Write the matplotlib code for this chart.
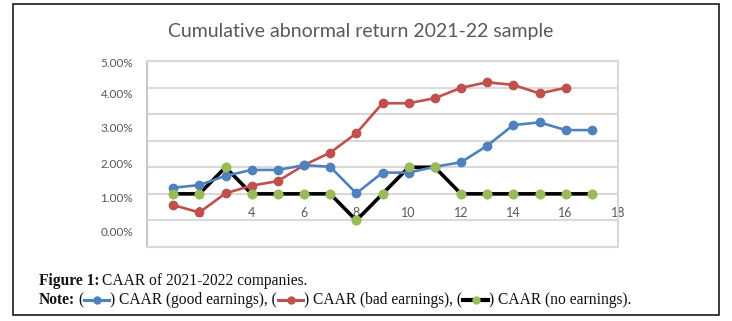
import matplotlib
matplotlib.use("Agg")
import matplotlib.pyplot as plt
from matplotlib.patches import Rectangle
from matplotlib.lines import Line2D

# ── Data (CAAR in %) ─────────────────────────────────────────────────────────
periods    = list(range(1, 18))
caar_good  = [1.23, 1.33, 1.68, 1.90, 1.90, 2.08, 2.02, 1.02, 1.80, 1.80,
              2.02, 2.19, 2.81, 3.59, 3.69, 3.40, 3.40]
caar_bad   = [0.58, 0.30, 1.02, 1.31, 1.48, 2.08, 2.55, 3.28, 4.41, 4.41,
              4.60, 4.99, 5.20, 5.10, 4.78, 4.99]
caar_none  = [1, 1, 2, 1, 1, 1, 1, 0, 1, 2, 2, 1, 1, 1, 1, 1, 1]

x_ticks    = [2, 4, 6, 8, 10, 12, 14, 16, 18]
y_labels   = ["0.00%", "1.00%", "2.00%", "3.00%", "4.00%", "5.00%"]

TITLE   = "Cumulative abnormal return 2021-22 sample"
BLUE    = "#4F81BD"
RED     = "#C0504D"
GREEN   = "#9BBB59"
GRID    = "#D9D9D9"
TXT     = "#595959"

# the % labels in the source are not aligned with the gridlines
Y_LABEL_POS = [-0.43, 0.88, 2.13, 3.51, 4.79, 5.96]

fig = plt.figure(figsize=(7.32, 3.21), dpi=100)
ax = fig.add_axes([147 / 732, 74 / 321, 471 / 732, 186 / 321])

ax.plot(periods, caar_none, color="black", lw=2.6, marker="o", ms=6,
        mfc=GREEN, mec=GREEN, zorder=3)
ax.plot(periods[:len(caar_bad)], caar_bad, color=RED, lw=1.9, marker="o", ms=6,
        mfc=RED, mec=RED, zorder=4)
ax.plot(periods, caar_good, color=BLUE, lw=1.9, marker="o", ms=6,
        mfc=BLUE, mec=BLUE, zorder=5)
# green dots drawn above everything, as in the source
ax.plot(periods, caar_none, lw=0, marker="o", ms=6, mfc=GREEN, mec=GREEN, zorder=6)

ax.set_xlim(0, 18)
ax.set_ylim(-1, 6)
ax.set_xticks(x_ticks)
ax.set_xticks(range(0, 19, 2), minor=True)
ax.set_yticks(Y_LABEL_POS)
ax.set_yticklabels(y_labels)
ax.set_yticks(range(-1, 7), minor=True)
ax.grid(False)
ax.grid(True, which="minor", color=GRID, lw=1.5)
ax.set_axisbelow(True)
ax.tick_params(axis="both", which="both", length=0)
ax.tick_params(axis="x", labelsize=9, labelcolor=TXT, pad=-29)
ax.tick_params(axis="y", labelsize=8.5, labelcolor=TXT, pad=10)
for s in ax.spines.values():
    s.set_color(GRID)
    s.set_linewidth(1.5)
ax.spines["left"].set_color("#C8C8C8")
for lab in ax.get_xticklabels() + ax.get_yticklabels():
    lab.set_family("Lato")

fig.text(361 / 732, 1 - 32 / 321, TITLE, ha="center", va="center",
         fontsize=14, color=TXT, family="Lato")

# outer frame
fig.patches.append(Rectangle((13 / 732, 1 - 315 / 321), 706 / 732, 311 / 321,
                             transform=fig.transFigure, fill=False,
                             ec="#1a1a1a", lw=1.2))

# ── Caption ──────────────────────────────────────────────────────────────────
fig.canvas.draw()
renderer = fig.canvas.get_renderer()
SERIF = "Liberation Serif"
CAP_FS = 11.2


def put(x, y, s, bold=False):
    t = fig.text(x / 732, 1 - y / 321, s, fontsize=CAP_FS, family=SERIF,
                 fontweight="bold" if bold else "normal", va="baseline",
                 color="#111111")
    bb = t.get_window_extent(renderer)
    return x + bb.width


def swatch(x, y, line_c, dot_c, lw):
    w = 25
    ym = 1 - (y - 4) / 321
    fig.add_artist(Line2D([x / 732, (x + w) / 732], [ym, ym], color=line_c,
                          lw=lw, transform=fig.transFigure))
    fig.add_artist(Line2D([(x + w / 2) / 732], [ym], marker="o", ms=5,
                          mfc=dot_c, mec=dot_c, lw=0, transform=fig.transFigure))
    return x + w


x = put(39, 285, "Figure 1:", bold=True)
put(x + 3, 285, "CAAR of 2021-2022 companies.")

y2 = 304
x = put(39, y2, "Note:", bold=True)
x = put(x + 3, y2, "(")
x = swatch(x + 1, y2, BLUE, BLUE, 2.2)
x = put(x + 1, y2, ") CAAR (good earnings), (")
x = swatch(x + 1, y2, RED, RED, 2.2)
x = put(x + 1, y2, ") CAAR (bad earnings), (")
x = swatch(x + 1, y2, "black", GREEN, 3)
put(x + 1, y2, ") CAAR (no earnings).")

fig.savefig("out.png", dpi=100)
